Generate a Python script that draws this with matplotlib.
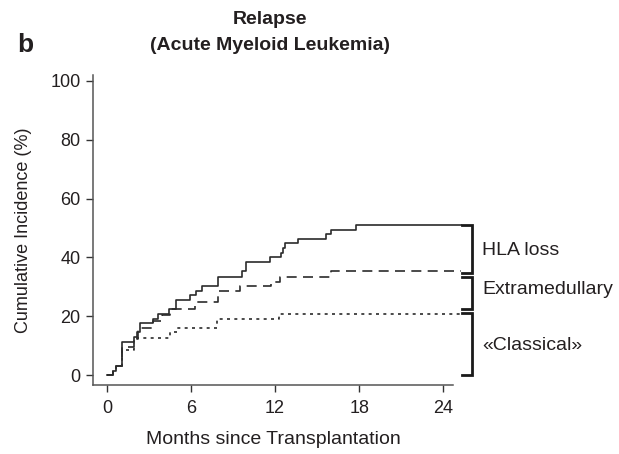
import matplotlib
matplotlib.use("Agg")
import matplotlib.pyplot as plt

plt.rcParams['font.family'] = ['Liberation Sans', 'DejaVu Sans']

# Data (months, cumulative incidence %)
hla_t = [0, 0.4, 0.65, 1.05, 1.93, 2.12, 2.36, 3.29, 3.64, 4.45, 4.9, 5.9, 6.33, 6.8,
         7.95, 9.65, 9.95, 11.62, 12.42, 12.55, 12.72, 13.65, 15.6, 16.0, 17.8, 25.3]
hla_v = [0, 1.4, 3.1, 11.3, 13.0, 14.7, 17.7, 19.2, 20.8, 22.4, 25.5, 27.2, 28.6, 30.4,
         33.3, 35.2, 38.4, 40.1, 41.5, 43.3, 44.8, 46.3, 47.9, 49.4, 51.0, 51.0]

extra_t = [0, 0.4, 0.65, 1.05, 1.9, 2.2, 3.3, 3.9, 4.5, 6.3, 7.9, 9.5, 11.7, 12.35, 16.0, 25.3]
extra_v = [0, 1.4, 3.1, 9.6, 12.2, 15.9, 18.5, 20.5, 22.3, 24.9, 28.4, 30.2, 31.5, 33.4, 35.3, 35.3]

class_t = [0, 0.4, 0.65, 1.05, 1.9, 4.5, 5.0, 7.85, 12.3, 25.3]
class_v = [0, 1.4, 3.1, 8.5, 12.7, 14.7, 16.0, 19.0, 20.7, 20.7]

group_labels = ["HLA loss", "Extramedullary", "\u00abClassical\u00bb"]
bracket_ranges = [(51.0, 34.8), (33.3, 22.6), (21.0, 0.0)]
label_y = [42.5, 28.9, 10.2]

x_ticks = [0, 6, 12, 18, 24]
y_ticks = [0, 20, 40, 60, 80, 100]

W, H = 619, 454
fig = plt.figure(figsize=(W / 100, H / 100), dpi=100)
ax = fig.add_axes([93 / W, 1 - 385 / H, 360 / W, 310 / H])

lc = '#2b2b2b'
ax.plot(class_t, class_v, drawstyle='steps-post', color=lc, lw=1.2,
        dashes=(1.8, 2.6), clip_on=False)
ax.plot(extra_t, extra_v, drawstyle='steps-post', color=lc, lw=1.2,
        dashes=(6, 3.8), clip_on=False)
ax.plot(hla_t, hla_v, drawstyle='steps-post', color=lc, lw=1.2, clip_on=False)

ax.set_xlim(-1, 24.7)
ax.set_ylim(-3.4, 102)
ax.set_xticks(x_ticks)
ax.set_yticks(y_ticks)
ax.tick_params(direction='out', length=5, width=1, colors='#333333',
               labelsize=13, labelcolor='#231f20')
ax.tick_params(axis='x', pad=6)
ax.tick_params(axis='y', pad=4)
for s in ['top', 'right']:
    ax.spines[s].set_visible(False)
for s in ['left', 'bottom']:
    ax.spines[s].set_color('#555555')
    ax.spines[s].set_linewidth(1.1)

ax.set_xlabel("Months since Transplantation", fontsize=14, color='#231f20', labelpad=10)
ax.set_ylabel("Cumulative Incidence (%)", fontsize=13, color='#231f20', labelpad=13)

# brackets
bx0, bx1 = 25.36, 26.07
for (ytop, ybot), lab, ly in zip(bracket_ranges, group_labels, label_y):
    ax.plot([bx0, bx1, bx1, bx0], [ytop, ytop, ybot, ybot], color='#1a1a1a',
            lw=2.0, clip_on=False, solid_joinstyle='miter')
    ax.text(26.8, ly, lab, fontsize=14, color='#231f20', va='center', ha='left',
            clip_on=False)

fig.text(270 / W, 1 - 19 / H, "Relapse", fontsize=14, fontweight='bold',
         ha='center', va='center', color='#231f20')
fig.text(270 / W, 1 - 46 / H, "(Acute Myeloid Leukemia)", fontsize=14, fontweight='bold',
         ha='center', va='center', color='#231f20')
fig.text(25 / W, 1 - 45 / H, "b", fontsize=19, fontweight='bold',
         ha='center', va='center', color='#231f20')

fig.savefig("out.png", dpi=100)
